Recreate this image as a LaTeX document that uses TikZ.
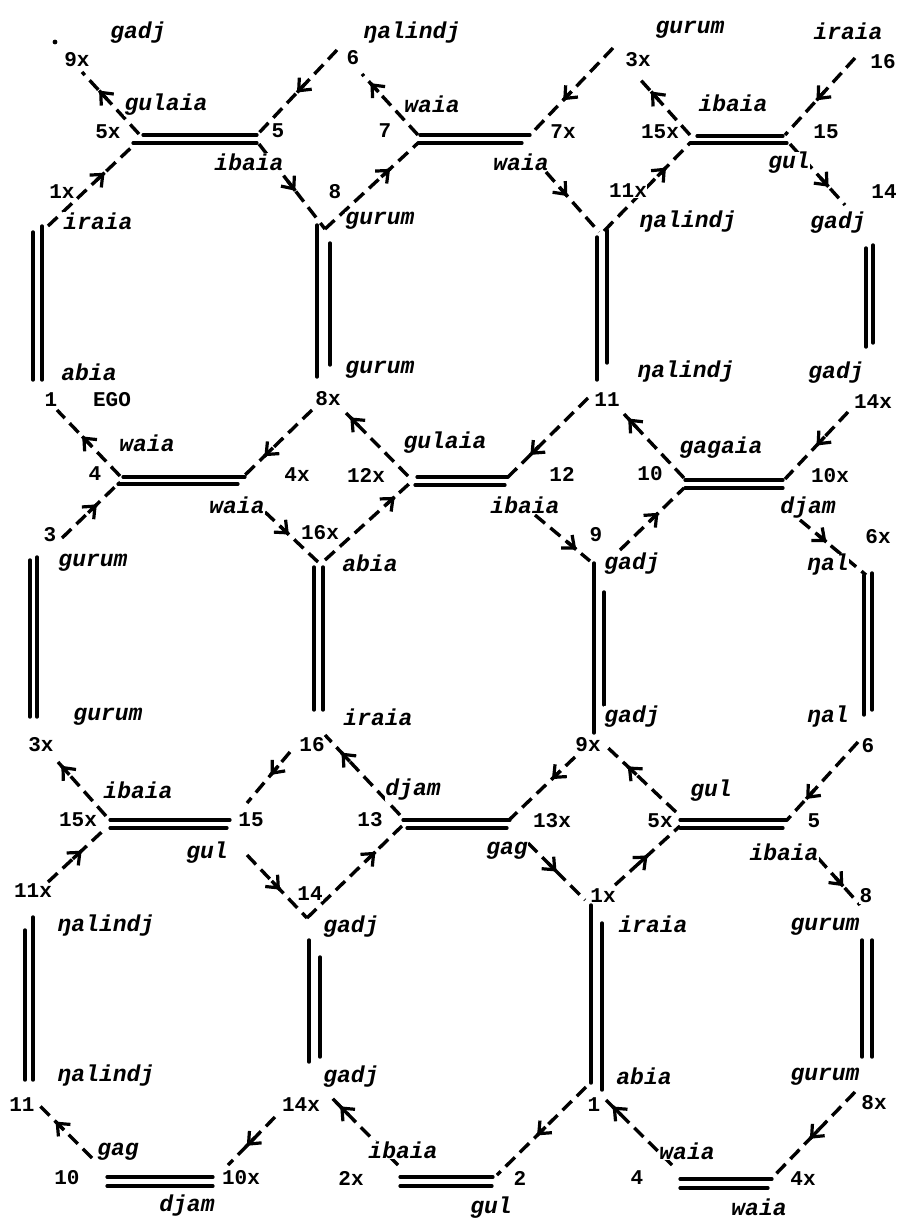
\documentclass[tikz,border=0pt]{standalone}
\usepackage{fontspec}
\newfontfamily\tw{Liberation Mono}
\usetikzlibrary{arrows.meta,decorations.markings}
\tikzset{
  num/.style={font=\tw\bfseries\fontsize{21}{21}\selectfont, inner sep=0.5pt, fill=white},
  term/.style={font=\tw\bfseries\itshape\fontsize{23}{23}\selectfont, inner sep=0.5pt, fill=white},
  dbl/.style={line width=3.2pt, line cap=round},
  vdbl/.style={line width=3.4pt, line cap=round},
  dsh/.style={line width=3.4pt, dash pattern=on 13pt off 7pt},
  arr/.style={postaction={decorate}, decoration={markings, mark=at position #1 with {\draw[solid,line width=3.4pt] (-12pt,0pt) -- (0pt,0pt); \arrow{Straight Barb[length=10pt,width=17pt,line width=3.2pt]}}}},
  arr/.default=0.55,
}
\newcommand\hpair[6]{\draw[dbl] (#1,#3) -- (#2,#3); \draw[dbl] (#4,#6) -- (#5,#6);}
\newcommand\vpair[6]{\draw[vdbl] (#1,#2) -- (#1,#3); \draw[vdbl] (#4,#5) -- (#4,#6);}
\begin{document}
\begin{tikzpicture}[x=1pt,y=-1pt]
\useasboundingbox (0,0) rectangle (897,1221);
% ---------- double lines ----------
\hpair{143}{257}{135}{133}{257}{143}
\hpair{420}{530}{135}{418}{522}{143}
\hpair{697}{783}{136}{690}{787}{143}
\hpair{123}{245}{477}{118}{238}{484}
\hpair{417}{508}{477}{415}{505}{485}
\hpair{685}{783}{480}{685}{783}{488}
\hpair{110}{230}{820}{110}{227}{828}
\hpair{403}{510}{820}{407}{507}{828}
\hpair{680}{787}{820}{680}{783}{828}
\hpair{107}{213}{1177}{107}{213}{1186}
\hpair{400}{493}{1177}{400}{492}{1186}
\hpair{680}{772}{1179}{680}{768}{1188}
\vpair{33}{232}{380}{42}{226}{380}
\vpair{317}{225}{377}{330}{243}{365}
\vpair{597}{237}{380}{607}{230}{363}
\vpair{866}{248}{347}{873}{245}{343}
\vpair{30}{560}{717}{37}{557}{717}
\vpair{314}{567}{710}{323}{567}{710}
\vpair{594}{563}{733}{604}{592}{705}
\vpair{864}{575}{715}{872}{573}{710}
\vpair{25}{930}{1080}{33}{917}{1080}
\vpair{309}{940}{1062}{320}{957}{1057}
\vpair{591}{905}{1083}{602}{923}{1090}
\vpair{862}{940}{1057}{872}{940}{1057}
% ---------- junction coordinates ----------
\coordinate (A1ul) at (139,134); \coordinate (e9x) at (82,72);
\coordinate (A1dl) at (135,144); \coordinate (t1x) at (48,226);
\coordinate (e6) at (337,50);    \coordinate (A1ur) at (257,135);
\coordinate (A1dr) at (259,144); \coordinate (j8) at (325,229);
\coordinate (A2dl) at (418,143); \coordinate (A2ul) at (418,135);
\coordinate (e6b) at (362,74);   \coordinate (e3x) at (613,48);
\coordinate (A2ur) at (530,135); \coordinate (A2dr) at (546,172);
\coordinate (j11x) at (599,232); \coordinate (j11xb) at (604,231);
\coordinate (A3dl) at (690,143); \coordinate (A3ul) at (690,135);
\coordinate (e3xb) at (638,77);  \coordinate (e16) at (855,58);
\coordinate (A3ur) at (785,135); \coordinate (A3dr) at (790,144);
\coordinate (e14) at (845,205);
\coordinate (B1ul) at (120,476); \coordinate (e1) at (57,410);
\coordinate (e3) at (62,538);    \coordinate (B1dl) at (120,482);
\coordinate (e8x) at (312,410);  \coordinate (B1ur) at (244,476);
\coordinate (B1dr) at (265,512); \coordinate (j16x) at (318,562);
\coordinate (j16xb) at (325,560);\coordinate (B2dl) at (410,483);
\coordinate (B2ul) at (408,476); \coordinate (e8xb) at (346,413);
\coordinate (e11) at (588,398);  \coordinate (B2ur) at (508,477);
\coordinate (B2dr) at (535,515); \coordinate (j9) at (590,561);
\coordinate (j9b) at (620,550);  \coordinate (B3dl) at (684,488);
\coordinate (B3ul) at (684,478); \coordinate (e11b) at (624,414);
\coordinate (e14x) at (848,412); \coordinate (B3ur) at (785,479);
\coordinate (B3dr) at (800,520); \coordinate (j6x) at (866,575);
\coordinate (C1ul) at (106,816); \coordinate (e3xc) at (58,762);
\coordinate (e11x) at (48,882);  \coordinate (C1dl) at (106,828);
\coordinate (e16c) at (290,752); \coordinate (C1ur) at (247,803);
\coordinate (C1dr) at (247,855); \coordinate (j14) at (307,918);
\coordinate (C2dl) at (402,826); \coordinate (C2ul) at (400,815);
\coordinate (e16d) at (325,735); \coordinate (e9xc) at (575,757);
\coordinate (C2ur) at (509,820); \coordinate (C2dr) at (528,843);
\coordinate (j1x) at (585,900);  \coordinate (j1xb) at (615,885);
\coordinate (C3dl) at (680,826); \coordinate (C3ul) at (676,812);
\coordinate (e9xd) at (605,745); \coordinate (e6c) at (858,742);
\coordinate (C3ur) at (787,820); \coordinate (C3dr) at (818,858);
\coordinate (j8c) at (860,905);
\coordinate (D1ul) at (92,1158); \coordinate (e11d) at (40,1106);
\coordinate (e14xd) at (275,1117); \coordinate (D1ur) at (228,1165);
\coordinate (D2ul) at (398,1165); \coordinate (e14xe) at (330,1096);
\coordinate (e1d) at (586,1087); \coordinate (D2ur) at (497,1175);
\coordinate (D3ul) at (672,1165); \coordinate (e1e) at (606,1100);
\coordinate (e8xd) at (855,1092); \coordinate (D3ur) at (773,1177);
% ---------- dashed descent lines ----------
\draw[dsh,arr=0.7] (A1ul) -- (e9x);
\draw[dsh,arr=0.65] (t1x) -- (A1dl);
\draw[dsh,arr=0.5] (e6) -- (A1ur);
\draw[dsh,arr=0.55] (A1dr) -- (j8);
\draw[dsh,arr=0.7] (j8) -- (A2dl);
\draw[dsh,arr=0.85] (A2ul) -- (e6b);
\draw[dsh,arr=0.6] (e3x) -- (A2ur);
\draw[dsh,arr=0.4] (A2dr) -- (j11x);
\draw[dsh,arr=0.72] (j11xb) -- (A3dl);
\draw[dsh,arr=0.75] (A3ul) -- (e3xb);
\draw[dsh,arr=0.55] (e16) -- (A3ur);
\draw[dsh,arr=0.7] (A3dr) -- (e14);
\draw[dsh,arr=0.6] (B1ul) -- (e1);
\draw[dsh,arr=0.6] (e3) -- (B1dl);
\draw[dsh,arr=0.7] (e8x) -- (B1ur);
\draw[dsh,arr=0.45] (B1dr) -- (j16x);
\draw[dsh,arr=0.82] (j16xb) -- (B2dl);
\draw[dsh,arr=0.93] (B2ul) -- (e8xb);
\draw[dsh,arr=0.72] (e11) -- (B2ur);
\draw[dsh,arr=0.75] (B2dr) -- (j9);
\draw[dsh,arr=0.6] (j9b) -- (B3dl);
\draw[dsh,arr=0.93] (B3ul) -- (e11b);
\draw[dsh,arr=0.5] (e14x) -- (B3ur);
\draw[dsh,arr=0.4] (B3dr) -- (j6x);
\draw[dsh,arr=0.93] (C1ul) -- (e3xc);
\draw[dsh,arr=0.58] (e11x) -- (C1dl);
\draw[dsh,arr=0.45] (e16c) -- (C1ur);
\draw[dsh,arr=0.55] (C1dr) -- (j14);
\draw[dsh,arr=0.72] (j14) -- (C2dl);
\draw[dsh,arr=0.78] (C2ul) -- (e16d);
\draw[dsh,arr=0.35] (e9xc) -- (C2ur);
\draw[dsh,arr=0.5] (C2dr) -- (j1x);
\draw[dsh,arr=0.5] (j1xb) -- (C3dl);
\draw[dsh,arr=0.68] (C3ul) -- (e9xd);
\draw[dsh,arr=0.73] (e6c) -- (C3ur);
\draw[dsh,arr=0.6] (C3dr) -- (j8c);
\draw[dsh,arr=0.7] (D1ul) -- (e11d);
\draw[dsh,arr=0.6] (e14xd) -- (D1ur);
\draw[dsh,arr=0.85] (D2ul) -- (e14xe);
\draw[dsh,arr=0.55] (e1d) -- (D2ur);
\draw[dsh,arr=0.9] (D3ul) -- (e1e);
\draw[dsh,arr=0.55] (e8xd) -- (D3ur);
\fill (55,42) circle (2.4pt);
% ---------- number labels ----------
\node[num] (n1) at (77,60) {9x};
\node[num] (n2) at (108,132) {5x};
\node[num] (n3) at (278,131) {5};
\node[num] (n4) at (62,192) {1x};
\node[num] (n5) at (353,58) {6};
\node[num] (n6) at (335,192) {8};
\node[num] (n7) at (385,131) {7};
\node[num] (n8) at (563,132) {7x};
\node[num] (n9) at (638,60) {3x};
\node[num] (n10) at (660,132) {15x};
\node[num] (n11) at (628,191) {11x};
\node[num] (n12) at (826,132) {15};
\node[num] (n13) at (883,62) {16};
\node[num] (n14) at (884,192) {14};
\node[num] (n15) at (51,400) {1};
\node[num] (n16) at (112,400) {EGO};
\node[num] (n17) at (95,474) {4};
\node[num] (n18) at (297,475) {4x};
\node[num] (n19) at (50,535) {3};
\node[num] (n20) at (328,399) {8x};
\node[num] (n21) at (366,475) {12x};
\node[num] (n22) at (320,533) {16x};
\node[num] (n23) at (607,400) {11};
\node[num] (n24) at (562,474) {12};
\node[num] (n25) at (650,474) {10};
\node[num] (n26) at (596,535) {9};
\node[num] (n27) at (873,402) {14x};
\node[num] (n28) at (830,476) {10x};
\node[num] (n29) at (878,537) {6x};
\node[num] (n30) at (41,745) {3x};
\node[num] (n31) at (78,820) {15x};
\node[num] (n32) at (251,820) {15};
\node[num] (n33) at (312,745) {16};
\node[num] (n34) at (370,820) {13};
\node[num] (n35) at (588,745) {9x};
\node[num] (n36) at (552,821) {13x};
\node[num] (n37) at (660,821) {5x};
\node[num] (n38) at (814,821) {5};
\node[num] (n39) at (868,746) {6};
\node[num] (n40) at (33,891) {11x};
\node[num] (n41) at (310,894) {14};
\node[num] (n42) at (603,896) {1x};
\node[num] (n43) at (866,896) {8};
\node[num] (n44) at (22,1105) {11};
\node[num] (n45) at (301,1105) {14x};
\node[num] (n46) at (594,1105) {1};
\node[num] (n47) at (874,1103) {8x};
\node[num] (n48) at (67,1178) {10};
\node[num] (n49) at (241,1178) {10x};
\node[num] (n50) at (351,1178) {2x};
\node[num] (n51) at (520,1178) {2};
\node[num] (n52) at (637,1178) {4};
\node[num] (n53) at (803,1179) {4x};
% ---------- kin terms ----------
\node[term] (t1) at (138,33) {gadj};
\node[term] (t2) at (166,105) {gulaia};
\node[term] (t3) at (249,162) {ibaia};
\node[term] (t4) at (98,221) {iraia};
\node[term] (t5) at (412,33) {ŋalindj};
\node[term] (t6) at (432,104) {waia};
\node[term] (t7) at (380,221) {gurum};
\node[term] (t8) at (521,162) {waia};
\node[term] (t9) at (690,30) {gurum};
\node[term] (t10) at (733,103) {ibaia};
\node[term] (t11) at (688,222) {ŋalindj};
\node[term] (t12) at (789,163) {gul};
\node[term] (t13) at (848,31) {iraia};
\node[term] (t14) at (838,223) {gadj};
\node[term] (t15) at (89,372) {abia};
\node[term] (t16) at (147,443) {waia};
\node[term] (t17) at (237,505) {waia};
\node[term] (t18) at (93,563) {gurum};
\node[term] (t19) at (380,370) {gurum};
\node[term] (t20) at (445,443) {gulaia};
\node[term] (t21) at (370,563) {abia};
\node[term] (t22) at (686,372) {ŋalindj};
\node[term] (t23) at (836,373) {gadj};
\node[term] (t24) at (721,448) {gagaia};
\node[term] (t25) at (525,505) {ibaia};
\node[term] (t26) at (808,508) {djam};
\node[term] (t27) at (632,564) {gadj};
\node[term] (t28) at (828,565) {ŋal};
\node[term] (t29) at (108,717) {gurum};
\node[term] (t30) at (138,790) {ibaia};
\node[term] (t31) at (207,853) {gul};
\node[term] (t32) at (378,717) {iraia};
\node[term] (t33) at (413,790) {djam};
\node[term] (t34) at (632,717) {gadj};
\node[term] (t35) at (828,717) {ŋal};
\node[term] (t36) at (507,851) {gag};
\node[term] (t37) at (711,791) {gul};
\node[term] (t38) at (784,852) {ibaia};
\node[term] (t39) at (106,926) {ŋalindj};
\node[term] (t40) at (351,927) {gadj};
\node[term] (t41) at (653,924) {iraia};
\node[term] (t42) at (825,927) {gurum};
\node[term] (t43) at (106,1076) {ŋalindj};
\node[term] (t44) at (351,1077) {gadj};
\node[term] (t45) at (644,1076) {abia};
\node[term] (t46) at (825,1077) {gurum};
\node[term] (t47) at (118,1152) {gag};
\node[term] (t48) at (403,1150) {ibaia};
\node[term] (t49) at (687,1151) {waia};
\node[term] (t50) at (187,1206) {djam};
\node[term] (t51) at (491,1208) {gul};
\node[term] (t52) at (759,1207) {waia};
\end{tikzpicture}
\end{document}
